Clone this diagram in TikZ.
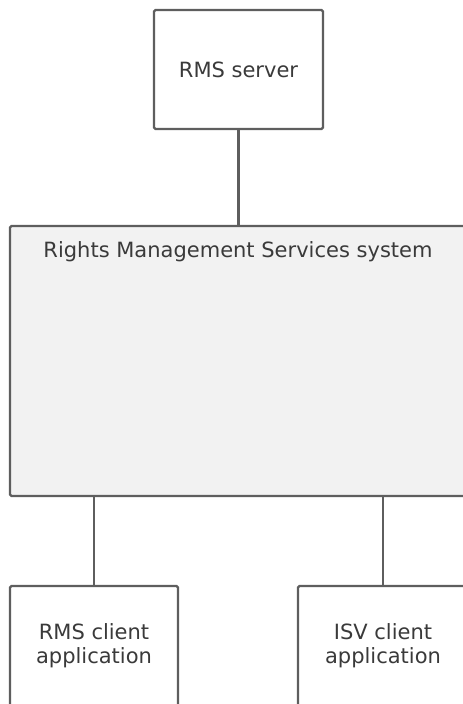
\documentclass[tikz,border=0pt]{standalone}
\usepackage{fontspec}
\setmainfont{DejaVu Sans}
\begin{document}
\begin{tikzpicture}[x=1pt,y=-1pt,
  box/.style={draw=linegrey, line width=2.4pt, rounded corners=1.5pt, fill=white,
    minimum width=#1, inner sep=0pt, text=textgrey, align=center,
    font=\fontsize{21}{24}\selectfont},
  link/.style={draw=linegrey, line width=2.4pt}]
\definecolor{linegrey}{HTML}{5E5E5E}
\definecolor{textgrey}{HTML}{3A3A3A}
\definecolor{sysfill}{HTML}{F2F2F2}
\useasboundingbox (0,0) rectangle (463,704);
\node[box=169pt, minimum height=119pt] (server) at (238.5,69.5) {RMS server};
\node[box=456pt, minimum height=270pt, fill=sysfill] (sys) at (238,361) {};
\node[text=textgrey, font=\fontsize{21}{24}\selectfont, anchor=base, inner sep=0pt] (syslabel) at (238,257) {Rights Management Services system};
\node[box=168pt, minimum height=120pt] (rmsc) at (94,646) {RMS client\\application};
\node[box=170pt, minimum height=120pt] (isvc) at (383,646) {ISV client\\application};
\draw[link] (server.south) -- (sys.north -| server.south);
\draw[link] (rmsc.north) -- (sys.south -| rmsc.north);
\draw[link] (isvc.north) -- (sys.south -| isvc.north);
\end{tikzpicture}
\end{document}
